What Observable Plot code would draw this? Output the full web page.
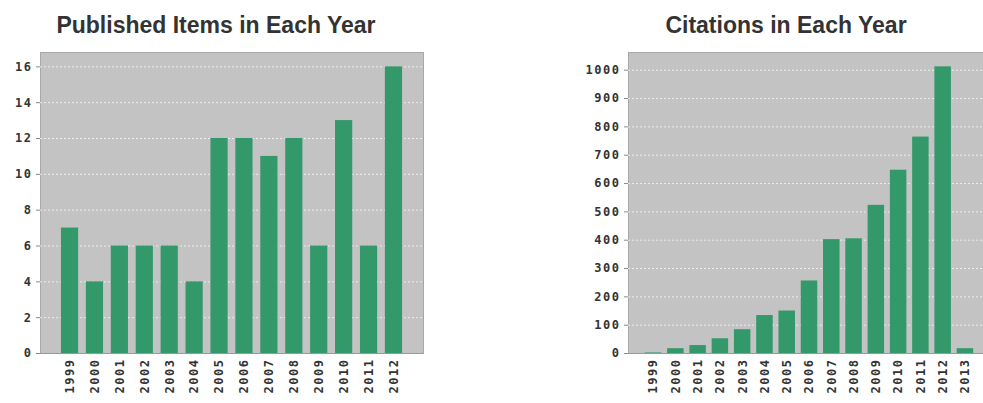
<!DOCTYPE html>
<html>
<head>
<meta charset="utf-8">
<script src="https://cdn.jsdelivr.net/npm/d3@7"></script>
<script src="https://cdn.jsdelivr.net/npm/@observablehq/plot@0.6"></script>
<style>
  html, body { margin: 0; padding: 0; background: #fff; width: 983px; height: 403px; overflow: hidden; position: relative; }
  .chart { position: absolute; top: 0; width: 440px; }
  .title { position: absolute; top: 12px; font: bold 23px "Liberation Sans", Arial, sans-serif; color: #333; white-space: nowrap; transform: translateX(-50%); }
  svg text { letter-spacing: 1.5px; }
</style>
</head>
<body>
<div class="title" style="left:216px">Published Items in Each Year</div>
<div class="title" style="left:786px">Citations in Each Year</div>
<div id="left" class="chart" style="left:0px"></div>
<div id="right" class="chart" style="left:560px"></div>
<script>
const pubYears = ["1999","2000","2001","2002","2003","2004","2005","2006","2007","2008","2009","2010","2011","2012"];
const pubCounts = [7, 4, 6, 6, 6, 4, 12, 12, 11, 12, 6, 13, 6, 16];
const pubTicks = [0, 2, 4, 6, 8, 10, 12, 14, 16];

const citYears = ["1999","2000","2001","2002","2003","2004","2005","2006","2007","2008","2009","2010","2011","2012","2013"];
const citCounts = [2, 17, 28, 52, 84, 134, 150, 256, 402, 405, 523, 647, 764, 1012, 17];
const citTicks = [0, 100, 200, 300, 400, 500, 600, 700, 800, 900, 1000];

function chart(years, counts, ticks, yMax, opts) {
  const data = years.map((y, i) => ({year: y, value: counts[i]}));
  return Plot.plot({
    width: opts.width,
    height: 403,
    marginTop: 52,
    marginBottom: 50,
    marginLeft: opts.marginLeft,
    marginRight: opts.marginRight,
    style: {fontFamily: "'DejaVu Sans Mono', monospace", fontSize: "12px", color: "#333", background: "transparent", maxWidth: "none"},
    x: {domain: years, paddingInner: opts.pi, paddingOuter: opts.po, round: false, label: null},
    y: {domain: [0, yMax], label: null},
    marks: [
      Plot.frame({fill: "#c3c3c3", stroke: "#a8a8a8"}),
      Plot.gridY(ticks, {stroke: "#ececec", strokeOpacity: 1, strokeDasharray: "2,2"}),
      Plot.barY(data, {x: "year", y: "value", fill: "#33996a"}),
      Plot.axisY(ticks, {tickSize: 4, tickPadding: 4, tickFormat: "d", stroke: "#888", fill: "#333", fontWeight: "bold"}),
      Plot.axisX({tickSize: 0, tickPadding: 5, tickRotate: -90, fill: "#333", fontWeight: "bold"}),
      Plot.ruleY([0], {stroke: "#999"})
    ]
  });
}

document.getElementById("left").append(
  chart(pubYears, pubCounts, pubTicks, 16.8, {width: 440, marginLeft: 40, marginRight: 17, pi: 0.31, po: 0.84})
);
document.getElementById("right").append(
  chart(citYears, citCounts, citTicks, 1062.6, {width: 440, marginLeft: 68, marginRight: 10, pi: 0.26, po: 0.755})
);
</script>
</body>
</html>
